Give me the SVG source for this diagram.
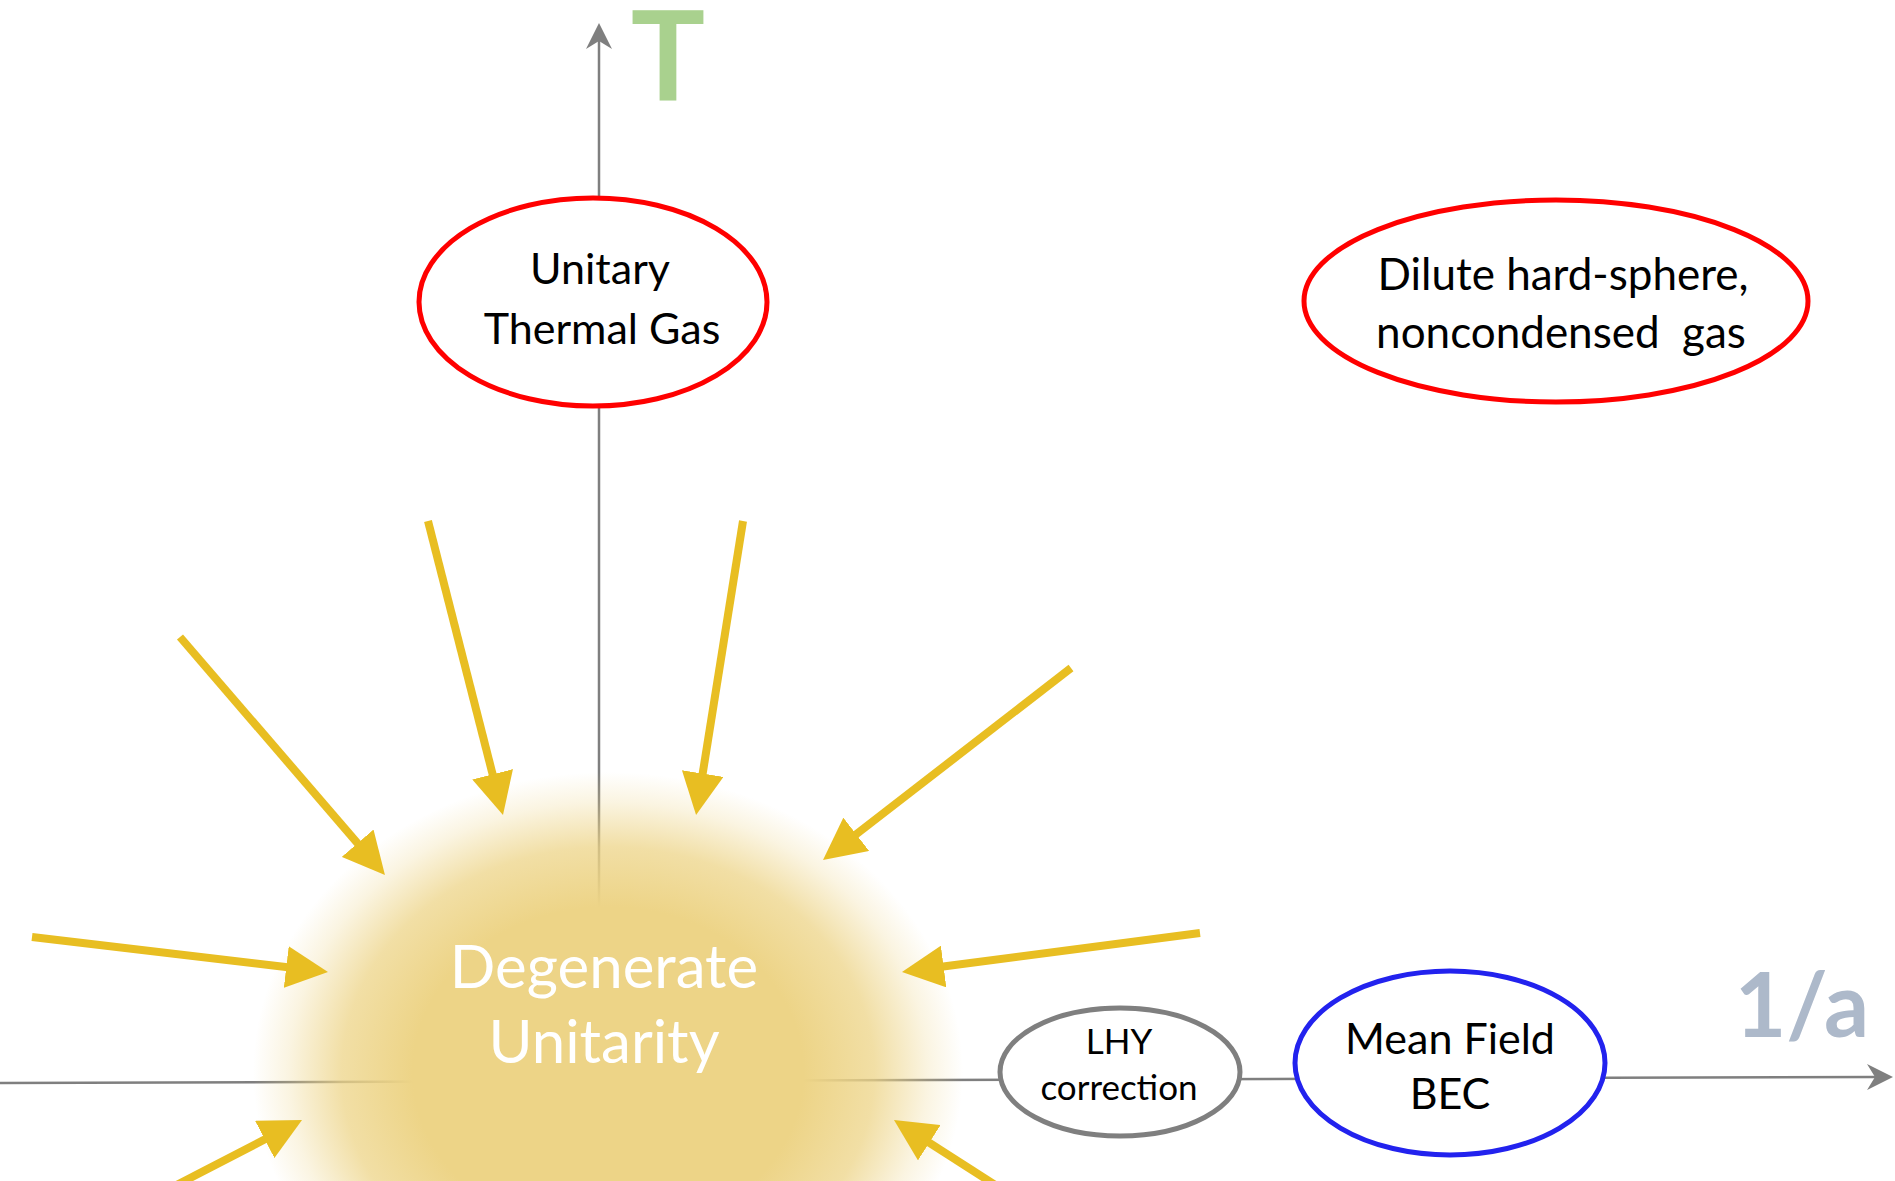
<svg xmlns="http://www.w3.org/2000/svg" width="1895" height="1181" viewBox="0 0 1895 1181">
  <defs>
    <style>
      .axis { stroke: #7f7f7f; stroke-width: 2.5; fill: none; }
      .flow { stroke: #e8be22; stroke-width: 8; fill: none; marker-end: url(#head); }
      .node { fill: #ffffff; stroke-width: 5; }
      .label { font-family: Lato, "Noto Sans", "Liberation Sans", sans-serif; text-anchor: middle; fill: #000000; }
      .axis-label { font-family: Lato, "Liberation Sans", sans-serif; font-weight: bold; text-anchor: middle; }
    </style>
    <!-- solid triangular head for the yellow arrows -->
    <marker id="head" markerUnits="userSpaceOnUse" markerWidth="42" markerHeight="42" viewBox="0 0 42 42" refX="10" refY="21" orient="auto">
      <path d="M0,0 L42,21 L0,42 z" fill="#e8be22"/>
    </marker>
    <!-- notched head for the axes -->
    <marker id="axis-head" markerUnits="userSpaceOnUse" markerWidth="26" markerHeight="26" viewBox="0 0 26 26" refX="8" refY="13" orient="auto">
      <path d="M0,0 L26,13 L0,26 L8,13 z" fill="#7f7f7f"/>
    </marker>
    <!-- soft golden glow -->
    <radialGradient id="glow" cx="0.5" cy="0.5" r="0.5">
      <stop offset="0" stop-color="#edd487" stop-opacity="1"/>
      <stop offset="0.55" stop-color="#edd487" stop-opacity="1"/>
      <stop offset="0.75" stop-color="#edd487" stop-opacity="0.75"/>
      <stop offset="0.9" stop-color="#edd487" stop-opacity="0.25"/>
      <stop offset="1" stop-color="#edd487" stop-opacity="0"/>
    </radialGradient>
  </defs>

  <rect width="1895" height="1181" fill="#ffffff"/>

  <!-- axes -->
  <g id="axes">
    <line class="axis" x1="599" y1="1080" x2="599" y2="41" marker-end="url(#axis-head)"/>
    <line class="axis" x1="0" y1="1083" x2="1875" y2="1077" marker-end="url(#axis-head)"/>
  </g>

  <!-- central glowing region -->
  <g id="node-degenerate-unitarity">
    <ellipse cx="608" cy="1072" rx="355" ry="300" fill="url(#glow)"/>
    <text class="label" x="604" y="988" font-size="60" style="fill:#ffffff">Degenerate</text>
    <text class="label" x="604" y="1063" font-size="60" style="fill:#ffffff">Unitarity</text>
  </g>

  <!-- arrows pointing into the central region -->
  <g id="connectors">
    <line class="flow" x1="180" y1="637" x2="364.1" y2="850.8"/>
    <line class="flow" x1="428" y1="521" x2="495.1" y2="784.0"/>
    <line class="flow" x1="743" y1="521" x2="701.1" y2="783.4"/>
    <line class="flow" x1="1071" y1="668" x2="848.3" y2="840.4"/>
    <line class="flow" x1="32" y1="937" x2="296.2" y2="968.2"/>
    <line class="flow" x1="1200" y1="933" x2="933.7" y2="967.8"/>
    <line class="flow" x1="167" y1="1190" x2="273.6" y2="1134.8"/>
    <line class="flow" x1="1003" y1="1190" x2="920.9" y2="1137.3"/>
  </g>

  <g id="node-unitary-thermal-gas">
    <ellipse class="node" cx="593" cy="302" rx="174" ry="104" stroke="#ff0000"/>
    <text class="label" x="600" y="284" font-size="43">Unitary</text>
    <text class="label" x="602" y="344" font-size="43">Thermal Gas</text>
  </g>

  <g id="node-dilute-gas">
    <ellipse class="node" cx="1556" cy="301" rx="252" ry="101" stroke="#ff0000"/>
    <text class="label" x="1563" y="290" font-size="44">Dilute hard-sphere,</text>
    <text class="label" x="1561" y="348" font-size="44" xml:space="preserve">noncondensed  gas</text>
  </g>

  <g id="node-lhy">
    <ellipse class="node" cx="1120" cy="1072" rx="120" ry="64" stroke="#7f7f7f"/>
    <text class="label" x="1119" y="1054" font-size="35">LHY</text>
    <text class="label" x="1119" y="1100" font-size="35">correction</text>
  </g>

  <g id="node-mean-field-bec">
    <ellipse class="node" cx="1450" cy="1063" rx="155" ry="92" stroke="#2222ee"/>
    <text class="label" x="1450" y="1054" font-size="43">Mean Field</text>
    <text class="label" x="1450" y="1109" font-size="43">BEC</text>
  </g>

  <!-- axis labels -->
  <g id="axis-labels">
    <text class="axis-label" x="668" y="100" font-size="124" fill="#a9d18e">T</text>
    <text class="axis-label" x="1802" y="1037" font-size="89" fill="#adb9ca">1/a</text>
  </g>
</svg>
